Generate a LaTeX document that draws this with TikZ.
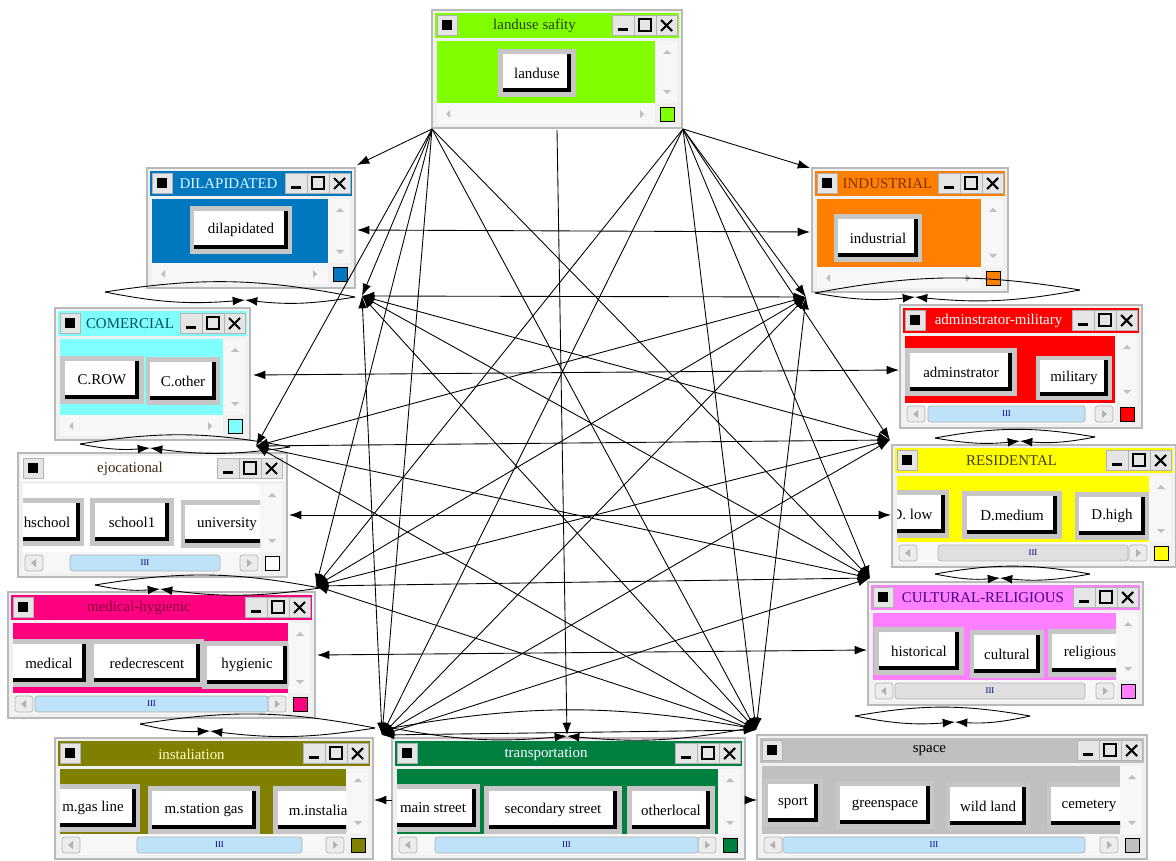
\documentclass[tikz,border=0pt]{standalone}
\usepackage{fontspec}
\setmainfont{Liberation Serif}
\usetikzlibrary{arrows.meta}

\definecolor{lugreen}{HTML}{80FF00}
\definecolor{dilblue}{HTML}{0078C0}
\definecolor{indorange}{HTML}{FF8000}
\definecolor{comcyan}{HTML}{80FFFF}
\definecolor{admred}{HTML}{FF0000}
\definecolor{resyellow}{HTML}{FFFF00}
\definecolor{medpink}{HTML}{FF0080}
\definecolor{culpink}{HTML}{FF80FF}
\definecolor{insolive}{HTML}{808000}
\definecolor{tragreen}{HTML}{008040}
\definecolor{spagray}{HTML}{C0C0C0}
\definecolor{thumbblue}{HTML}{BEE3F8}
\definecolor{titlelu}{HTML}{284000}
\definecolor{titledil}{HTML}{E4F4FF}
\definecolor{titleind}{HTML}{803000}
\definecolor{titlecom}{HTML}{005060}
\definecolor{titleedu}{HTML}{402810}
\definecolor{titleres}{HTML}{404000}
\definecolor{titlemed}{HTML}{800040}
\definecolor{titlecul}{HTML}{400080}
\definecolor{titleins}{HTML}{FFFFC8}

\newcommand{\uifont}{\fontsize{8.5}{10}\selectfont}

\tikzset{
    wtitle/.style={
        font=\uifont,
        inner sep=0pt
    },
    winbtn/.style={
        draw=gray!60,
        fill=gray!20
    },
    btn/.style={
        draw=gray!45,
        line width=2.6pt,
        fill=white,
        font=\uifont,
        minimum height=0.86cm,
        inner xsep=2pt,
        path picture={
            \draw[black, line width=7pt] (path picture bounding box.south west) -- (path picture bounding box.south east) -- (path picture bounding box.north east);
        }
    },
    thumb/.style={
        draw=gray!60,
        rounded corners=1.5pt
    },
    arr/.style={
        draw=black,
        line width=0.5pt,
        -{Latex[length=7pt,width=5pt]}
    },
    biarr/.style={
        draw=black,
        line width=0.5pt,
        {Latex[length=7pt,width=5pt]}-{Latex[length=7pt,width=5pt]}
    },
    loopline/.style={
        draw=black,
        line width=0.5pt
    }
}

% window: name, left, top, right, bottom, colour, title colour, title
\newcommand{\uiwin}[8]{%
  \draw[gray!55, fill=gray!12, line width=1pt] (#2,#3) rectangle (#4,#5);
  \fill[#6] ({#2+3},{#3+3}) rectangle ({#4-3},{#3+28});
  \draw[winbtn] ({#2+5},{#3+5}) rectangle ({#2+25},{#3+25});
  \fill[black] ({#2+10},{#3+10}) rectangle ({#2+20},{#3+20});
  \draw[winbtn] ({#4-70},{#3+5}) rectangle ({#4-5},{#3+25});
  \draw[gray!60] ({#4-48},{#3+5}) -- ({#4-48},{#3+25}) ({#4-26},{#3+5}) -- ({#4-26},{#3+25});
  \fill[black] ({#4-64},{#3+18}) rectangle ({#4-54},{#3+21});
  \draw[line width=0.9pt] ({#4-43},{#3+9}) rectangle ({#4-31},{#3+21});
  \draw[line width=1.2pt] ({#4-21},{#3+10}) -- ({#4-10},{#3+21}) ({#4-21},{#3+21}) -- ({#4-10},{#3+10});
  \node[wtitle, text=#7] (#1-title) at ({(#2+#4-45)/2},{#3+16}) {#8};
  \fill[#6] ({#2+5},{#3+31}) rectangle ({#4-27},{#5-25});
  \fill[gray!6] ({#4-27},{#3+31}) rectangle ({#4-5},{#5-25});
  \fill[gray!6] ({#2+5},{#5-25}) rectangle ({#4-27},{#5-4});
  \fill[gray!50] ({#4-19},{#3+44}) -- ({#4-11},{#3+44}) -- ({#4-15},{#3+40}) -- cycle;
  \fill[gray!50] ({#4-19},{#5-38}) -- ({#4-11},{#5-38}) -- ({#4-15},{#5-34}) -- cycle;
  \fill[gray!50] ({#2+14},{#5-14}) -- ({#2+18},{#5-18}) -- ({#2+18},{#5-10}) -- cycle;
  \fill[gray!50] ({#4-38},{#5-14}) -- ({#4-42},{#5-18}) -- ({#4-42},{#5-10}) -- cycle;
  \draw[black, fill=#6] ({#4-22},{#5-21}) rectangle ({#4-8},{#5-7});
}

% scroll thumb: left, right, bottom, thumb from, thumb to, colour
\newcommand{\uithumb}[6]{%
  \draw[thumb, fill=gray!15] ({#1+7},{#3-22}) rectangle ({#1+25},{#3-6});
  \draw[thumb, fill=gray!15] ({#2-47},{#3-22}) rectangle ({#2-29},{#3-6});
  \fill[gray!60] ({#1+13},{#3-14}) -- ({#1+18},{#3-18}) -- ({#1+18},{#3-10}) -- cycle;
  \fill[gray!60] ({#2-35},{#3-14}) -- ({#2-40},{#3-18}) -- ({#2-40},{#3-10}) -- cycle;
  \draw[thumb, fill=#6] (#4,{#3-22}) rectangle (#5,{#3-6});
  \node[font=\tiny, text=blue!55!black, inner sep=0pt] at ({(#4+#5)/2},{#3-14}) {III};
}

\begin{document}
\begin{tikzpicture}[x=0.02cm, y=-0.02cm]
\useasboundingbox (0,0) rectangle (1176,861);

% top window
\uiwin{lu}{432}{10}{682}{128}{lugreen}{titlelu}{landuse safity}
\node[btn, minimum width=1.46cm] (lu-b1) at (537,73) {landuse};

% left column
\uiwin{dil}{147}{168}{355}{288}{dilblue}{titledil}{DILAPIDATED}
\node[btn, minimum width=1.96cm] (dil-b1) at (241,230) {dilapidated};

\uiwin{com}{55}{308}{250}{440}{comcyan}{titlecom}{COMERCIAL}
\node[btn, minimum width=1.58cm] (com-b1) at (102,380) {C.ROW};
\node[btn, minimum width=1.4cm] (com-b2) at (183,381) {C.other};

\uiwin{edu}{18}{453}{287}{577}{white}{titleedu}{ejocational}
\uithumb{18}{287}{577}{70}{220}{thumbblue}
\begin{scope}
\clip (23,484) rectangle (260,552);
\node[btn, minimum width=1.4cm] (edu-b1) at (47,522) {hschool};
\node[btn, minimum width=1.58cm] (edu-b2) at (132,522) {school1};
\node[btn, minimum width=1.76cm] (edu-b3) at (227,524) {university};
\end{scope}

\uiwin{med}{8}{592}{315}{718}{medpink}{titlemed}{medical-hygienic}
\uithumb{8}{315}{718}{35}{268}{thumbblue}
\begin{scope}
\clip (13,623) rectangle (288,693);
\node[btn, minimum width=1.56cm] (med-b1) at (49,663) {medical};
\node[btn, minimum width=2.2cm] (med-b2) at (147,663) {redecrescent};
\node[btn, minimum width=1.7cm] (med-b3) at (247,665) {hygienic};
\end{scope}

% right column
\uiwin{ind}{812}{168}{1008}{292}{indorange}{titleind}{INDUSTRIAL}
\node[btn, minimum width=1.68cm] (ind-b1) at (878,238) {industrial};

\uiwin{adm}{900}{305}{1142}{428}{admred}{white}{adminstrator-military}
\uithumb{900}{1142}{428}{928}{1085}{thumbblue}
\node[btn, minimum width=2.14cm] (adm-b1) at (961,372) {adminstrator};
\node[btn, minimum width=1.44cm, minimum height=0.8cm] (adm-b2) at (1074,378) {military};

\uiwin{res}{892}{445}{1176}{567}{resyellow}{titleres}{RESIDENTAL}
\uithumb{892}{1176}{567}{938}{1128}{gray!25}
\begin{scope}
\clip (897,476) rectangle (1149,542);
\node[btn, minimum width=1.4cm] (res-b1) at (912,514) {D. low};
\node[btn, minimum width=1.9cm] (res-b2) at (1012,515) {D.medium};
\node[btn, minimum width=1.4cm] (res-b3) at (1112,516) {D.high};
\end{scope}

\uiwin{cul}{868}{582}{1143}{705}{culpink}{titlecul}{CULTURAL-RELIGIOUS}
\uithumb{868}{1143}{705}{895}{1085}{gray!25}
\begin{scope}
\clip (873,613) rectangle (1116,680);
\node[btn, minimum width=1.7cm] (cul-b1) at (919,651) {historical};
\node[btn, minimum width=1.4cm] (cul-b2) at (1007,654) {cultural};
\node[btn, minimum width=1.6cm] (cul-b3) at (1090,653) {religious};
\end{scope}

% bottom row
\uiwin{ins}{55}{738}{373}{859}{insolive}{titleins}{instaliation}
\uithumb{55}{373}{859}{137}{302}{thumbblue}
\begin{scope}
\clip (60,769) rectangle (346,834);
\node[btn, minimum width=1.8cm] (ins-b1) at (93,808) {m.gas line};
\node[btn, minimum width=2.16cm] (ins-b2) at (204,810) {m.station gas};
\node[btn, minimum width=1.8cm, anchor=west] (ins-b3) at (273,810) {m.instaliat};
\end{scope}

\uiwin{tra}{392}{738}{745}{859}{tragreen}{white}{transportation}
\uithumb{392}{745}{859}{435}{698}{thumbblue}
\begin{scope}
\clip (397,769) rectangle (718,834);
\node[btn, minimum width=1.8cm] (tra-b1) at (433,808) {main street};
\node[btn, minimum width=2.66cm] (tra-b2) at (553,810) {secondary street};
\node[btn, minimum width=1.66cm] (tra-b3) at (671,810) {otherlocal};
\end{scope}

\uiwin{spa}{757}{735}{1147}{859}{spagray}{black}{space}
\uithumb{757}{1147}{859}{783}{1085}{thumbblue}
\begin{scope}
\clip (762,766) rectangle (1120,834);
\node[btn, minimum width=1.1cm] (spa-b1) at (793,803) {sport};
\node[btn, minimum width=1.88cm] (spa-b2) at (885,805) {greenspace};
\node[btn, minimum width=1.6cm] (spa-b3) at (988,806) {wild land};
\node[btn, minimum width=1.6cm] (spa-b4) at (1089,806) {cemetery};
\end{scope}

% link ends
\coordinate (lu1) at (432,129);
\coordinate (lu2) at (557,130);
\coordinate (lu3) at (683,129);
\coordinate (dil-t) at (357,165);
\coordinate (dil-r) at (357,230);
\coordinate (dil-h) at (362,296);
\coordinate (ind-t) at (810,168);
\coordinate (ind-l) at (810,232);
\coordinate (ind-h) at (806,297);
\coordinate (com-r) at (253,375);
\coordinate (com-h) at (256,446);
\coordinate (adm-l) at (899,370);
\coordinate (adm-h) at (890,440);
\coordinate (edu-r) at (289,515);
\coordinate (edu-h) at (316,586);
\coordinate (res-l) at (891,515);
\coordinate (res-h) at (870,578);
\coordinate (med-r) at (317,655);
\coordinate (cul-l) at (867,650);
\coordinate (tra-h) at (382,735);
\coordinate (tra-t) at (567,735);
\coordinate (spa-h) at (756,730);
\coordinate (ins-r) at (374,800);
\coordinate (tra-l) at (392,800);
\coordinate (tra-r) at (745,800);
\coordinate (spa-l) at (757,800);

% loops between neighbour windows
\coordinate (l1-w) at (105,292); \coordinate (l1-e) at (355,297); \coordinate (l1-h) at (245,300);
\coordinate (l2-w) at (80,444);  \coordinate (l2-e) at (290,447); \coordinate (l2-h) at (150,448);
\coordinate (l3-w) at (95,585);  \coordinate (l3-e) at (320,588); \coordinate (l3-h) at (160,589);
\coordinate (l4-w) at (140,724); \coordinate (l4-e) at (375,728); \coordinate (l4-h) at (210,731);
\coordinate (r1-w) at (815,293); \coordinate (r1-e) at (1080,290); \coordinate (r1-h) at (915,297);
\coordinate (r2-w) at (935,438); \coordinate (r2-e) at (1095,437); \coordinate (r2-h) at (1020,441);
\coordinate (r3-w) at (935,574); \coordinate (r3-e) at (1090,574); \coordinate (r3-h) at (1000,578);
\coordinate (r4-w) at (855,716); \coordinate (r4-e) at (1030,716); \coordinate (r4-h) at (955,722);
\coordinate (b1-w) at (392,728); \coordinate (b1-e) at (750,728); \coordinate (b1-h) at (567,736);

\foreach \n in {l1,l2,l3,l4,r1,r2,r3,r4,b1} {
  \draw[loopline] (\n-w) to[bend left=10] (\n-e);
  \draw[arr] (\n-w) to[bend right=8] (\n-h);
  \draw[arr] (\n-e) to[bend left=8] (\n-h);
}

% landuse links
\draw[arr] (lu1) -- (dil-t);
\draw[arr] (lu3) -- (ind-t);
\draw[arr] (lu2) -- (tra-t);
\foreach \t in {dil-h,com-h,edu-h,tra-h,spa-h,res-h}
  \draw[arr] (lu1) -- (\t);
\foreach \t in {ind-h,adm-h,res-h,spa-h,tra-h,edu-h}
  \draw[arr] (lu3) -- (\t);

% side to side
\draw[biarr] (dil-r) -- (ind-l);
\draw[biarr] (com-r) -- (adm-l);
\draw[biarr] (edu-r) -- (res-l);
\draw[biarr] (med-r) -- (cul-l);
\foreach \a in {dil-h,com-h,edu-h,tra-h}
  \foreach \b in {ind-h,adm-h,res-h,spa-h}
    \draw[biarr] (\a) -- (\b);
\draw[biarr] (dil-h) -- (tra-h);
\draw[biarr] (ind-h) -- (spa-h);
\draw[arr] (tra-l) -- (ins-r);
\draw[arr] (tra-r) -- (spa-l);

\end{tikzpicture}
\end{document}
